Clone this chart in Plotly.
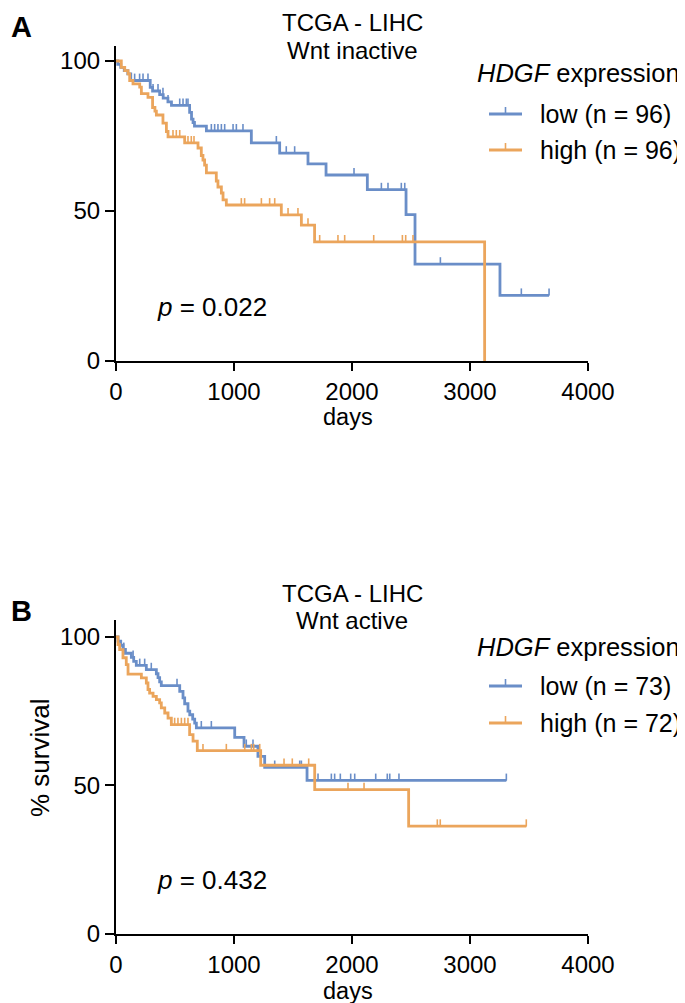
import numpy as np
import plotly.graph_objects as go

# ---------------- data ----------------
# Panel A: Wnt inactive
A_LOW_T = [0, 15, 40, 70, 100, 125, 290, 310, 370, 400, 440, 470, 624, 640, 653, 665, 766,
           1147, 1387, 1627, 1780, 2130, 2458, 2534, 3254]
A_LOW_S = [100, 98.9, 97.9, 96.8, 95.7, 93.5, 91.2, 90.0, 88.8, 87.6, 86.4, 85.2, 82.9, 80.6,
           79.5, 78.3, 76.7, 72.7, 69.3, 65.7, 62.0, 57.1, 48.8, 32.3, 21.9]
A_LOW_END = 3670
A_LOW_CENS = [158, 200, 229, 271, 314, 356, 398, 441, 540, 568, 596, 610, 808, 836, 864, 893,
              921, 992, 1020, 1076, 1359, 1443, 1514, 2017, 2249, 2305, 2418, 2447, 2749, 3435, 3670]

A_HIGH_T = [0, 45, 74, 102, 116, 144, 201, 215, 271, 310, 330, 342, 398, 427, 441, 582, 695,
            723, 737, 751, 766, 850, 864, 893, 907, 935, 1401, 1571, 1683, 3124]
A_HIGH_S = [100, 97.9, 96.8, 95.7, 93.5, 92.4, 91.3, 89.1, 87.9, 84.5, 83.3, 82.0, 79.3, 76.5,
            74.7, 72.7, 71.0, 68.5, 67.0, 65.3, 62.7, 60.0, 58.0, 56.0, 53.7, 52.0, 48.7, 45.3,
            39.7, 0]
A_HIGH_END = 3124
A_HIGH_CENS = [483, 511, 540, 610, 638, 661, 1062, 1090, 1232, 1302, 1345, 1458, 1542, 1627,
               1726, 1881, 1938, 2184, 2427, 2455, 2517]

# Panel B: Wnt active
B_LOW_T = [0, 17, 40, 59, 80, 130, 150, 172, 257, 342, 356, 370, 384, 540, 568, 582, 610, 625,
           650, 667, 681, 1006, 1085, 1203, 1260, 1619]
B_LOW_S = [100, 98.6, 97.2, 95.8, 94.5, 93.1, 91.8, 90.4, 89.0, 87.6, 86.3, 84.9, 83.6, 81.7,
           79.5, 77.5, 75.0, 73.8, 72.3, 71.0, 69.4, 66.2, 63.2, 59.8, 56.1, 51.7]
B_LOW_END = 3308
B_LOW_CENS = [66, 145, 201, 243, 299, 517, 723, 808, 1104, 1161, 1345, 1557, 1571, 1712, 1825,
              1853, 1901, 1989, 2023, 2201, 2299, 2320, 2398, 3308]

B_HIGH_T = [0, 17, 31, 59, 87, 102, 215, 257, 271, 285, 314, 342, 370, 384, 413, 441, 469, 624,
            653, 689, 1226, 1684, 2480]
B_HIGH_S = [100, 97.4, 95.7, 93.0, 90.7, 87.5, 86.2, 84.5, 82.3, 81.1, 80.0, 78.9, 77.8, 76.1,
            74.4, 72.7, 70.5, 67.1, 64.9, 61.7, 56.8, 48.6, 36.3]
B_HIGH_END = 3477
B_HIGH_CENS = [497, 525, 554, 582, 610, 737, 935, 1091, 1147, 1167, 1218, 1424, 1494, 1633,
               1966, 2102, 2723, 2748, 3477]

PANEL_TITLES = [["TCGA - LIHC", "Wnt inactive"], ["TCGA - LIHC", "Wnt active"]]
PANEL_LETTERS = ["A", "B"]
P_VALUES = ["0.022", "0.432"]
LEGEND_LABELS = [["low (n = 96)", "high (n = 96)"], ["low (n = 73)", "high (n = 72)"]]
X_TICKS = [0, 1000, 2000, 3000, 4000]
Y_TICKS = [0, 50, 100]

BLUE = "#6A8EC8"
ORANGE = "#EBA55C"
FONT = "Liberation Sans, Arial, sans-serif"
FS_TICK = 24
FS_TITLE = 24
FS_TEXT = 26
FS_LEG = 25
FS_DAYS = 23.5
W, H = 685, 1003


def px(x):
    return x / W


def py(y):
    return 1 - y / H


def step_value(times, surv, t):
    idx = np.searchsorted(np.asarray(times), t, side="right") - 1
    return float(np.asarray(surv)[idx])


fig = go.Figure()

series = [
    ("x", "y", A_LOW_T, A_LOW_S, A_LOW_END, A_LOW_CENS, BLUE),
    ("x", "y", A_HIGH_T, A_HIGH_S, A_HIGH_END, A_HIGH_CENS, ORANGE),
    ("x2", "y2", B_LOW_T, B_LOW_S, B_LOW_END, B_LOW_CENS, BLUE),
    ("x2", "y2", B_HIGH_T, B_HIGH_S, B_HIGH_END, B_HIGH_CENS, ORANGE),
]

for xa, ya, t, s, end, cens, col in series:
    xs = list(t)
    ys = list(s)
    if end > xs[-1]:
        xs.append(end)
        ys.append(ys[-1])
    fig.add_trace(go.Scatter(x=xs, y=ys, xaxis=xa, yaxis=ya, mode="lines",
                             line=dict(color=col, width=2.8, shape="hv"),
                             showlegend=False, hoverinfo="skip"))
    cy = [step_value(t, s, c) for c in cens]
    fig.add_trace(go.Scatter(x=cens, y=cy, xaxis=xa, yaxis=ya, mode="markers",
                             marker=dict(size=1, color=col),
                             error_y=dict(type="data", symmetric=False,
                                          array=[2.3] * len(cens), arrayminus=[0] * len(cens),
                                          width=0, thickness=1.6, color=col),
                             showlegend=False, hoverinfo="skip"))

axis_common = dict(showline=True, linecolor="black", linewidth=2.2, ticks="outside",
                   tickwidth=2.2, tickcolor="black", showgrid=False,
                   zeroline=False, automargin=False,
                   tickfont=dict(family=FONT, size=FS_TICK, color="black"))

# geometry (pixels) of the two panels
XL, XR = 108, 580
PANELS = [(38, 353, 105.0), (612, 926, 105.7)]

fig.update_layout(
    width=W, height=H, autosize=False,
    margin=dict(l=0, r=0, t=0, b=0),
    paper_bgcolor="white", plot_bgcolor="white",
    font=dict(family=FONT, size=FS_TEXT, color="black"),
    xaxis=dict(domain=[px(XL), px(XR)], range=[0, 4000], tickvals=X_TICKS, anchor="y",
               ticklen=8, ticklabelstandoff=0, **axis_common),
    yaxis=dict(domain=[py(PANELS[0][1]), py(PANELS[0][0])], range=[0, PANELS[0][2]],
               tickvals=Y_TICKS, anchor="x", ticklen=9, **axis_common),
    xaxis2=dict(domain=[px(XL), px(XR)], range=[0, 4000], tickvals=X_TICKS, anchor="y2",
                ticklen=8, ticklabelstandoff=0, **axis_common),
    yaxis2=dict(domain=[py(PANELS[1][1]), py(PANELS[1][0])], range=[0, PANELS[1][2]],
                tickvals=Y_TICKS, anchor="x2", ticklen=9, **axis_common),
)

annotations = []
shapes = []

# per-panel text positions in pixels
title_y = [(15, 42), (585, 612)]
letter_y = [19, 603]
p_y = [299, 872]
days_y = [409, 982.5]
leg_title_y = [65, 639]
leg_rows = [(106, 142), (678, 715)]
LEG_TITLE_X = 467
LEG_LINE_X = (481, 514)
LEG_TEXT_X = 530

for i in range(2):
    for line, yy in zip(PANEL_TITLES[i], title_y[i]):
        annotations.append(dict(text=line, x=px((XL + XR) / 2), y=py(yy), xref="paper",
                                yref="paper", xanchor="center", yanchor="middle",
                                showarrow=False, font=dict(size=FS_TITLE)))
    annotations.append(dict(text="<b>" + PANEL_LETTERS[i] + "</b>", x=px(1), y=py(letter_y[i]),
                            xref="paper", yref="paper", xanchor="left", yanchor="middle",
                            showarrow=False, font=dict(size=29)))
    annotations.append(dict(text="<i>p</i> = " + P_VALUES[i], x=px(147), y=py(p_y[i]),
                            xref="paper", yref="paper", xanchor="left", yanchor="middle",
                            showarrow=False, font=dict(size=FS_TEXT)))
    annotations.append(dict(text="days", x=px(340), y=py(days_y[i]), xref="paper",
                            yref="paper", xanchor="center", yanchor="middle",
                            showarrow=False, font=dict(size=FS_DAYS)))
    annotations.append(dict(text="<i>HDGF</i> expression", x=px(LEG_TITLE_X),
                            y=py(leg_title_y[i]), xref="paper", yref="paper",
                            xanchor="left", yanchor="middle", showarrow=False,
                            font=dict(size=25.5)))
    for lab, yy, col in zip(LEGEND_LABELS[i], leg_rows[i], [BLUE, ORANGE]):
        annotations.append(dict(text=lab, x=px(LEG_TEXT_X), y=py(yy), xref="paper",
                                yref="paper", xanchor="left", yanchor="middle",
                                showarrow=False, font=dict(size=FS_LEG)))
        shapes.append(dict(type="line", xref="paper", yref="paper", x0=px(LEG_LINE_X[0]),
                           x1=px(LEG_LINE_X[1]), y0=py(yy), y1=py(yy),
                           line=dict(color=col, width=2.8)))
        xm = (LEG_LINE_X[0] + LEG_LINE_X[1]) / 2
        shapes.append(dict(type="line", xref="paper", yref="paper", x0=px(xm), x1=px(xm),
                           y0=py(yy), y1=py(yy - 7), line=dict(color=col, width=1.6)))

annotations.append(dict(text="% survival", x=px(32), y=py(750), xref="paper", yref="paper",
                        xanchor="center", yanchor="middle", textangle=-90, showarrow=False,
                        font=dict(size=FS_TEXT)))

fig.update_layout(annotations=annotations, shapes=shapes)

fig.write_html("out.html")
